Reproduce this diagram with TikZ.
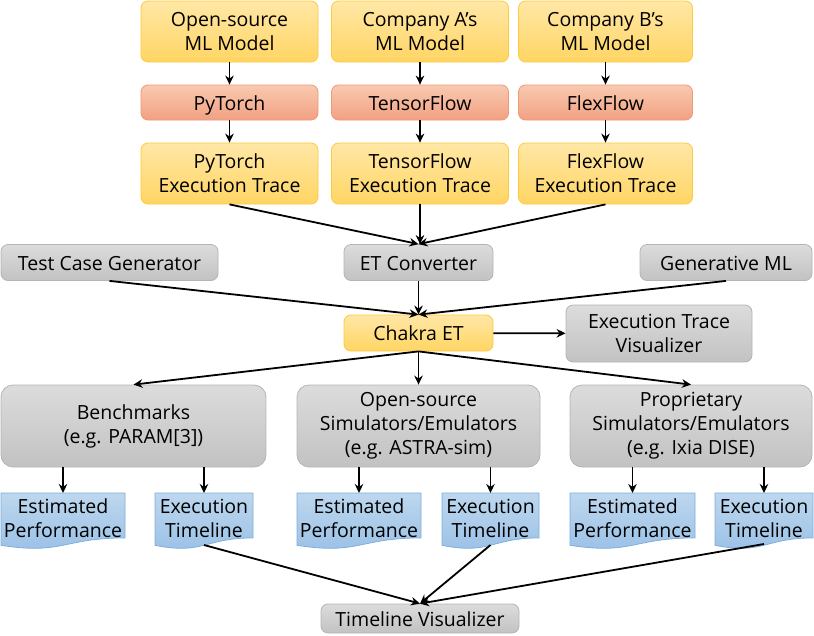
\documentclass[tikz,border=0pt]{standalone}
\usepackage{fontspec}
\setmainfont{Open Sans}
\usetikzlibrary{arrows.meta}
\definecolor{oTop}{HTML}{FFE7A6}
\definecolor{oBot}{HTML}{FFD563}
\definecolor{oLine}{HTML}{FFC83D}
\definecolor{pTop}{HTML}{F8CAB0}
\definecolor{pBot}{HTML}{F2A082}
\definecolor{pLine}{HTML}{EE9A72}
\definecolor{gTop}{HTML}{DCDCDC}
\definecolor{gBot}{HTML}{C2C2C2}
\definecolor{gLine}{HTML}{B4B4B4}
\definecolor{bTop}{HTML}{BDD7EE}
\definecolor{bBot}{HTML}{99C0E6}
\definecolor{bLine}{HTML}{7FAEDC}
\newcommand{\docnode}[6]{%
  \shade[top color=bTop,bottom color=bBot,draw=bLine,line width=0.8pt]
    (#2,#3) -- (#4,#3) -- (#4,{#3+0.802*(#5-#3)})
    .. controls ({(#2+#4)/2},{#3+0.802*(#5-#3)}) and ({(#2+#4)/2},{#3+1.107*(#5-#3)}) .. (#2,{#3+0.934*(#5-#3)}) -- cycle;
  \node[txt] (#1) at ({(#2+#4)/2},{#3+0.45*(#5-#3)}) {#6};
}
\begin{document}
\begin{tikzpicture}[x=1pt,y=-1pt,
  txt/.style={align=center,font=\fontsize{19.5}{24}\selectfont,inner sep=0pt},
  base/.style={rounded corners=7pt,line width=0.8pt,align=center,font=\fontsize{19.5}{24}\selectfont,inner sep=0pt},
  one/.style={text height=17pt,text depth=1.5pt},
  obox/.style={base,top color=oTop,bottom color=oBot,draw=oLine},
  pbox/.style={base,top color=pTop,bottom color=pBot,draw=pLine},
  gbox/.style={base,top color=gTop,bottom color=gBot,draw=gLine},
  arr/.style={line width=1.8pt,-{Stealth[length=9pt,width=8.5pt]}}]
\useasboundingbox (0,0) rectangle (814,635);
% top row
\node[obox,minimum width=177pt,minimum height=61pt] (m1) at (229.5,31.5) {Open-source\\ML Model};
\node[obox,minimum width=177pt,minimum height=61pt] (m2) at (420,31.5) {Company A's\\ML Model};
\node[obox,minimum width=174pt,minimum height=61pt] (m3) at (605.5,31.5) {Company B's\\ML Model};
\node[pbox,one,minimum width=177pt,minimum height=35pt] (f1) at (229.5,102.5) {PyTorch};
\node[pbox,one,minimum width=177pt,minimum height=35pt] (f2) at (420,102.5) {TensorFlow};
\node[pbox,one,minimum width=174pt,minimum height=35pt] (f3) at (605.5,102.5) {FlexFlow};
\node[obox,minimum width=177pt,minimum height=61pt] (t1) at (229.5,173.5) {PyTorch\\Execution Trace};
\node[obox,minimum width=177pt,minimum height=61pt] (t2) at (420,173.5) {TensorFlow\\Execution Trace};
\node[obox,minimum width=174pt,minimum height=61pt] (t3) at (605.5,173.5) {FlexFlow\\Execution Trace};
% middle
\node[gbox,one,minimum width=217pt,minimum height=36pt] (tcg) at (109.5,262.5) {Test Case Generator};
\node[gbox,one,minimum width=149pt,minimum height=36pt] (etc) at (418.5,262.5) {ET Converter};
\node[gbox,one,minimum width=172pt,minimum height=36pt] (gml) at (726,262.5) {Generative ML};
\node[obox,one,minimum width=149pt,minimum height=36pt] (cet) at (418.5,333) {Chakra ET};
\node[gbox,minimum width=186pt,minimum height=57pt] (etv) at (659,333.5) {Execution Trace\\Visualizer};
% simulators
\node[gbox,minimum width=265pt,minimum height=82pt,rounded corners=12pt] (bm) at (133.5,426) {Benchmarks\\(e.g. PARAM[3])};
\node[gbox,minimum width=243pt,minimum height=82pt,rounded corners=12pt] (os) at (418.5,426) {Open-source\\Simulators/Emulators\\(e.g. ASTRA-sim)};
\node[gbox,minimum width=242pt,minimum height=82pt,rounded corners=12pt] (ps) at (691,426) {Proprietary\\Simulators/Emulators\\(e.g. Ixia DISE)};
% documents
\docnode{ep1}{1}{493}{125}{549}{Estimated\\Performance}
\docnode{el1}{155}{493}{253}{549}{Execution\\Timeline}
\docnode{ep2}{297}{493}{421}{549}{Estimated\\Performance}
\docnode{el2}{442}{493}{539}{549}{Execution\\Timeline}
\docnode{ep3}{570}{493}{695}{549}{Estimated\\Performance}
\docnode{el3}{715}{493}{813}{549}{Execution\\Timeline}
\node[gbox,one,minimum width=198pt,minimum height=29pt] (tv) at (420,618.5) {Timeline Visualizer};
% connectors
\foreach \i in {1,2,3}{
  \draw[arr] (m\i) -- (f\i);
  \draw[arr] (f\i) -- (t\i);
}
\draw[arr] (t1.south) -- (etc.north);
\draw[arr] (t2.south) -- (etc.north -| t2.south);
\draw[arr] (t3.south) -- (etc.north);
\draw[arr] (etc) -- (cet);
\draw[arr] (tcg.south) -- (cet.north);
\draw[arr] (gml.south) -- (cet.north);
\draw[arr] (cet) -- (etv);
\draw[arr] (cet.south) -- (bm.north);
\draw[arr] (cet.south) -- (os.north);
\draw[arr] (cet.south) -- (ps.north);
\draw[arr] (bm.south -| ep1) -- (ep1.north |- 0,493);
\draw[arr] (bm.south -| el1) -- (el1.north |- 0,493);
\draw[arr] (os.south -| ep2) -- (ep2.north |- 0,493);
\draw[arr] (os.south -| el2) -- (el2.north |- 0,493);
\draw[arr] (ps.south -| ep3) -- (ep3.north |- 0,493);
\draw[arr] (ps.south -| el3) -- (el3.north |- 0,493);
\coordinate (d1) at (204,545);
\coordinate (d2) at (490.5,545);
\coordinate (d3) at (764,544);
\draw[arr] (d1) -- (tv.north);
\draw[arr] (d2) -- (tv.north);
\draw[arr] (d3) -- (tv.north);
\end{tikzpicture}
\end{document}
